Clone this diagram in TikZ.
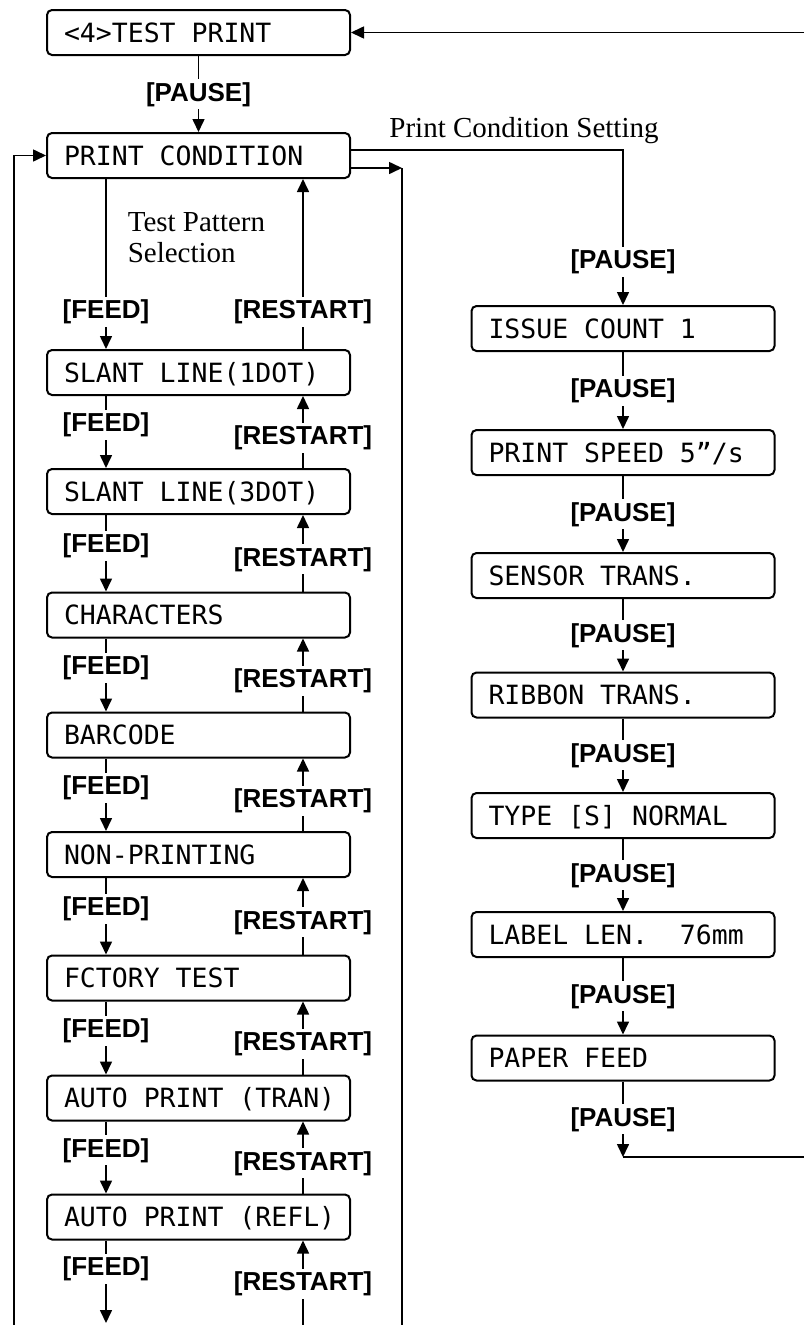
\documentclass[tikz,border=0pt]{standalone}
\usepackage{fontspec}
\usetikzlibrary{arrows.meta,calc}
\newfontfamily\keyfont{Liberation Sans}
\newfontfamily\notefont{Liberation Serif}
\newfontfamily\lcdfont{DejaVu Sans Mono}
\protected\def\lcdgap{\spaceskip=0.602em\relax\xspaceskip=0.602em\relax\hbadness=10000\hfuzz=40pt\relax}

\begin{document}
\begin{tikzpicture}[x=1pt,y=-1pt,line width=1.6pt,>={Triangle[length=13pt,width=12pt]},
  lcd/.style={draw,line width=2pt,rounded corners=5pt,text width=269pt,inner xsep=17pt,
    inner ysep=0pt,minimum height=45pt,text height=19pt,text depth=0pt,align=justify,
    font=\lcdfont\fontsize{26.5}{26.5}\selectfont,execute at begin node=\lcdgap},
  key/.style={fill=white,inner xsep=2pt,inner ysep=3pt,text height=19pt,text depth=5pt,
    font=\keyfont\bfseries\fontsize{26}{26}\selectfont},
  note/.style={inner sep=0pt,align=left,font=\notefont\fontsize{29}{31}\selectfont}]
\path[fill=white,use as bounding box] (0,0) rectangle (804,1325);
% ---------- left column: test pattern selection ----------
\node[lcd] (tp) at (198.5,32.5) {\mbox{<4>TEST PRINT}};
\node[lcd] (pc) at (198.5,155.5) {\mbox{PRINT CONDITION}};
\foreach \n/\y/\t in {s1/372.5/SLANT LINE(1DOT),s2/491.5/SLANT LINE(3DOT),s3/615/CHARACTERS,
    s4/735/BARCODE,s5/854.5/NON-PRINTING,s6/978/FCTORY TEST,s7/1098/AUTO PRINT (TRAN),
    s8/1217/AUTO PRINT (REFL)}
  \node[lcd] (\n) at (198.5,\y) {\mbox{\t}};
\node[note,anchor=north west] (tps) at (127,212) {Test Pattern\\Selection};
% ---------- right column: print condition setting ----------
\foreach \n/\y/\t in {r1/328.5/ISSUE COUNT 1,r2/452.5/{PRINT SPEED 5”/s},r3/575.5/SENSOR TRANS.,
    r4/695/RIBBON TRANS.,r5/815.5/TYPE [S] NORMAL,r6/934.5/LABEL LEN.\ \ 76mm,r7/1058/PAPER FEED}
  \node[lcd] (\n) at (623,\y) {\mbox{\t}};
% ---------- ends running off the page ----------
\coordinate (topin) at (804,32.5);
\coordinate (rj) at (623,1157);
\coordinate (rout) at (804,1157);
\coordinate (lin) at (14,1325);
\coordinate (rc) at (402,168);
\coordinate (rdown) at (402,1325);
\coordinate (fout) at (106,1323);
\coordinate (rsin) at (303,1325);
% ---------- connectors ----------
\draw[->] (topin) -- (tp.east);
\draw[->] (tp) -- (pc) node[key,midway] {[PAUSE]};
\draw[->] ([yshift=5.5pt]pc.east) -| (r1.north)
  node[note,pos=0.318,above=5pt] (pcs) {Print Condition Setting}
  node[key,pos=0.86] {[PAUSE]};
\foreach \a/\b in {r1/r2,r2/r3,r3/r4,r4/r5,r5/r6,r6/r7}
  \draw[->] (\a) -- (\b) node[key,midway] {[PAUSE]};
\draw[->] (r7) -- (rj) node[key,midway] {[PAUSE]};
\draw (rj) -- (rout);
\draw[->] ([xshift=60pt]pc.south west) -- ([xshift=60pt]s1.north west) node[key,pos=0.78] {[FEED]};
\draw[->] ([xshift=-48pt]s1.north east) -- ([xshift=-48pt]pc.south east) node[key,pos=0.22] {[RESTART]};
\foreach \a/\b in {s1/s2,s2/s3,s3/s4,s4/s5,s5/s6,s6/s7,s7/s8}{
  \draw[->] ([xshift=60pt]\a.south west) -- ([xshift=60pt]\b.north west) node[key,pos=0.4] {[FEED]};
  \draw[->] ([xshift=-48pt]\b.north east) -- ([xshift=-48pt]\a.south east) node[key,pos=0.42] {[RESTART]};
}
\draw[->] ([xshift=60pt]s8.south west) -- (fout) node[key,pos=0.345] {[FEED]};
\draw[->] (rsin) -- ([xshift=-48pt]s8.south east) node[key,pos=0.49] {[RESTART]};
\draw[->] (lin) |- (pc.west);
\draw[->] ([yshift=-12.5pt]pc.east) -- (rc);
\draw (rc) -- (rdown);
\end{tikzpicture}
\end{document}
